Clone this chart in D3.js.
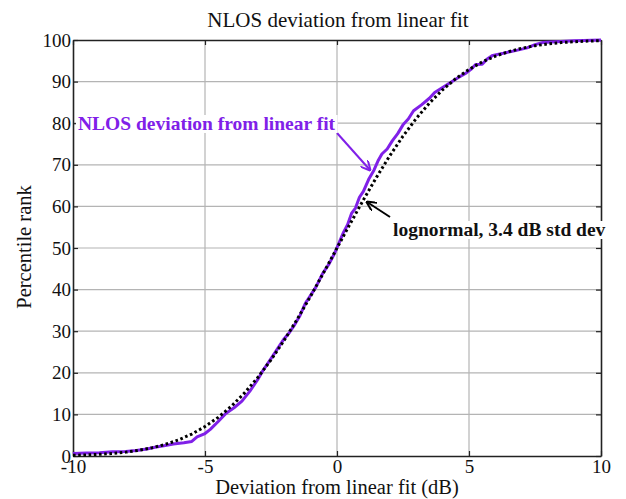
<!DOCTYPE html>
<html>
<head>
<meta charset="utf-8">
<script src="https://cdn.jsdelivr.net/npm/d3@7"></script>
<style>
  html, body { margin: 0; padding: 0; background: #fff; }
  svg { display: block; font-family: "Liberation Serif", "Times New Roman", serif; }
</style>
</head>
<body>
<svg id="chart" width="626" height="499"></svg>
<script>
// Empirical NLOS deviation CDF (percentile rank vs dB)
const measuredX = [-10, -9.5, -9, -8.5, -8, -7.6, -7.2, -6.9, -6.5, -6.2, -5.8, -5.5, -5.3, -5.0, -4.8, -4.5,
  -4.2, -3.9, -3.6, -3.3, -3.0, -2.8, -2.5, -2.2, -2.0, -1.8, -1.6, -1.4, -1.2, -1.0, -0.8, -0.55, -0.3, -0.1,
  0.1, 0.25, 0.4, 0.55, 0.7, 0.85, 1.0, 1.2, 1.4, 1.55, 1.7, 1.9, 2.1, 2.3, 2.5, 2.7, 2.9, 3.2, 3.5, 3.7,
  4.0, 4.3, 4.6, 4.9, 5.1, 5.25, 5.5, 5.7, 5.9, 6.3, 6.8, 7.2, 7.5, 7.8, 8.3, 9.0, 10];
const measuredY = [0.6, 0.7, 0.8, 1.0, 1.1, 1.3, 1.7, 2.1, 2.5, 2.9, 3.2, 3.5, 4.6, 5.4, 6.4, 8.3,
  10.3, 11.6, 13.2, 15.6, 18.4, 20.6, 23.4, 26.3, 28.2, 29.7, 31.6, 33.8, 36.7, 38.6, 40.6, 43.8, 46.2, 48.6,
  51.6, 53.8, 55.6, 58.3, 59.6, 62.2, 63.6, 66.5, 68.7, 70.9, 72.6, 73.8, 75.8, 77.5, 79.6, 81.0, 83.0, 84.4, 86.0, 87.4,
  88.6, 89.8, 91.0, 92.1, 93.1, 94.1, 94.2, 95.5, 96.3, 96.8, 97.5, 98.1, 98.9, 99.4, 99.6, 99.8, 100];

// Lognormal reference curve, 3.4 dB standard deviation
const lognormX = [-10, -9.5, -9, -8.5, -8, -7.5, -7, -6.5, -6, -5.5, -5, -4.5, -4, -3.5, -3, -2.5, -2, -1.5, -1, -0.5,
  0, 0.5, 1, 1.5, 2, 2.5, 3, 3.5, 4, 4.5, 5, 5.5, 6, 6.5, 7, 7.5, 8, 8.5, 9, 9.5, 10];
const lognormY = [0.16, 0.26, 0.41, 0.62, 0.93, 1.37, 1.98, 2.8, 3.88, 5.28, 7.07, 9.28, 11.97, 15.17, 18.88, 23.11,
  27.82, 32.96, 38.43, 44.15, 50, 55.85, 61.57, 67.04, 72.18, 76.89, 81.12, 84.83, 88.03, 90.72, 92.93, 94.72,
  96.12, 97.2, 98.02, 98.63, 99.07, 99.38, 99.59, 99.74, 99.84];

const xTicks = [-10, -5, 0, 5, 10];
const yTicks = [0, 10, 20, 30, 40, 50, 60, 70, 80, 90, 100];

const titleText = "NLOS deviation from linear fit";
const xTitle = "Deviation from linear fit (dB)";
const yTitle = "Percentile rank";
const measuredLabel = "NLOS deviation from linear fit";
const lognormLabel = "lognormal, 3.4 dB std dev";

(function () {
  const purple = "#8020e8";
  const plotLeft = 73, plotRight = 601, plotTop = 40, plotBottom = 456;
  const tickFont = 19, titleFont = 21, axisTitleFont = 20.5, noteFont = 19.5;

  const svg = d3.select("#chart");
  const x = d3.scaleLinear().domain([-10, 10]).range([plotLeft, plotRight]);
  const y = d3.scaleLinear().domain([0, 100]).range([plotBottom, plotTop]);
  // plain hyphen for negatives
  const fmt = d => String(d);

  // grid
  const grid = svg.append("g");
  grid.selectAll("line.gx").data(xTicks.slice(1, -1)).join("line")
    .attr("x1", d => x(d)).attr("x2", d => x(d)).attr("y1", plotTop).attr("y2", plotBottom)
    .attr("stroke", "#b4b4b4").attr("stroke-width", 1.2);
  grid.selectAll("line.gy").data(yTicks.slice(1, -1)).join("line")
    .attr("y1", d => y(d)).attr("y2", d => y(d)).attr("x1", plotLeft).attr("x2", plotRight)
    .attr("stroke", "#b4b4b4").attr("stroke-width", 1.2);

  // axes with inward ticks on all four sides
  const axisStyle = g => {
    g.select(".domain").attr("stroke", "#222").attr("stroke-width", 1.6);
    g.selectAll(".tick line").attr("stroke", "#222").attr("stroke-width", 1.2);
    g.selectAll("text").attr("font-family", "Liberation Serif, Times New Roman, serif")
      .attr("font-size", tickFont).attr("fill", "#111");
  };
  svg.append("g").attr("transform", `translate(0,${plotBottom})`)
    .call(d3.axisBottom(x).tickValues(xTicks).tickSizeInner(-5).tickSizeOuter(0).tickPadding(3).tickFormat(fmt))
    .call(axisStyle);
  svg.append("g").attr("transform", `translate(0,${plotTop})`)
    .call(d3.axisTop(x).tickValues(xTicks).tickSizeInner(-5).tickSizeOuter(0).tickFormat(""))
    .call(axisStyle);
  svg.append("g").attr("transform", `translate(${plotLeft},0)`)
    .call(d3.axisLeft(y).tickValues(yTicks).tickSizeInner(-5).tickSizeOuter(0).tickPadding(2).tickFormat(fmt))
    .call(axisStyle);
  svg.append("g").attr("transform", `translate(${plotRight},0)`)
    .call(d3.axisRight(y).tickValues(yTicks).tickSizeInner(-5).tickSizeOuter(0).tickFormat(""))
    .call(axisStyle);

  // curves
  const line = d3.line().x(d => x(d[0])).y(d => y(d[1]));
  svg.append("path").datum(d3.zip(measuredX, measuredY)).attr("d", line)
    .attr("fill", "none").attr("stroke", purple).attr("stroke-width", 3).attr("stroke-linejoin", "round");
  svg.append("path").datum(d3.zip(lognormX, lognormY)).attr("d", line)
    .attr("fill", "none").attr("stroke", "#000").attr("stroke-width", 3).attr("stroke-dasharray", "2.6,2.6");

  // titles
  svg.append("text").attr("x", 338).attr("y", 27).attr("text-anchor", "middle")
    .attr("font-size", titleFont).attr("fill", "#111").text(titleText);
  svg.append("text").attr("x", 337).attr("y", 494).attr("text-anchor", "middle")
    .attr("font-size", axisTitleFont).attr("fill", "#111").text(xTitle);
  svg.append("text").attr("transform", "translate(31,247) rotate(-90)").attr("text-anchor", "middle")
    .attr("font-size", axisTitleFont).attr("fill", "#111").text(yTitle);

  // annotations with arrows
  const defs = svg.append("defs");
  function arrowHead(id, color) {
    defs.append("marker").attr("id", id).attr("viewBox", "0 0 10 10").attr("refX", 9).attr("refY", 5)
      .attr("markerWidth", 5).attr("markerHeight", 5).attr("orient", "auto")
      .append("path").attr("d", "M0,0 L10,5 L0,10").attr("fill", "none").attr("stroke", color).attr("stroke-width", 2);
  }
  arrowHead("ahPurple", purple);
  arrowHead("ahBlack", "#000");

  function label(txt, tx, ty, color) {
    const g = svg.append("g");
    const rect = g.append("rect").attr("fill", "#fff");
    const t = g.append("text").attr("x", tx).attr("y", ty).attr("font-weight", "bold")
      .attr("font-size", noteFont).attr("fill", color).text(txt);
    const b = t.node().getBBox();
    rect.attr("x", b.x - 2).attr("y", b.y + 2).attr("width", b.width + 4).attr("height", b.height - 3);
  }

  svg.append("line").attr("x1", 337).attr("y1", 133).attr("x2", 370).attr("y2", 170)
    .attr("stroke", purple).attr("stroke-width", 2).attr("marker-end", "url(#ahPurple)");
  svg.append("line").attr("x1", 390).attr("y1", 217).attr("x2", 367).attr("y2", 202)
    .attr("stroke", "#000").attr("stroke-width", 2).attr("marker-end", "url(#ahBlack)");

  label(measuredLabel, 78, 130, purple);
  label(lognormLabel, 393, 236, "#111");
})();
</script>
</body>
</html>
